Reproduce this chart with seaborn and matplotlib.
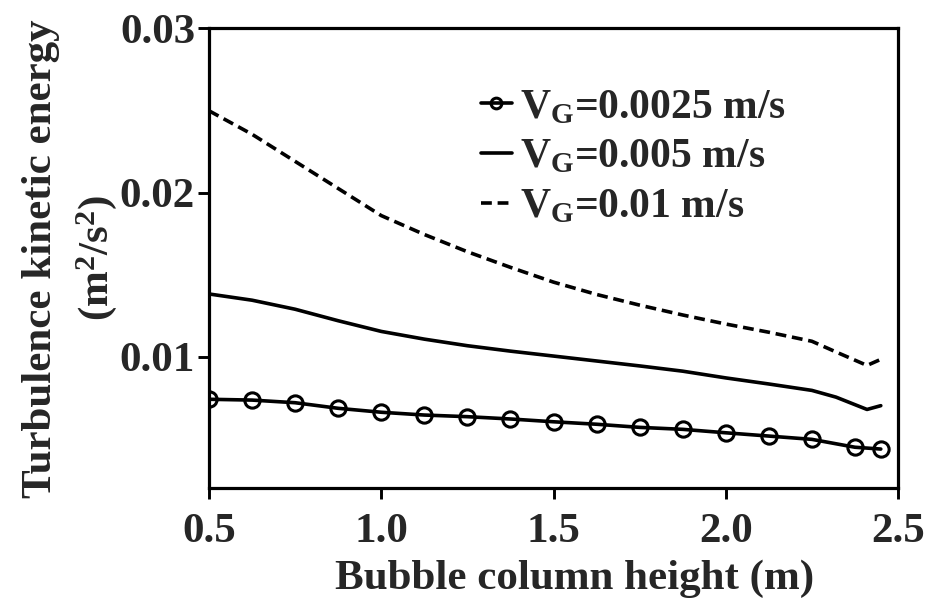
import matplotlib
matplotlib.use("Agg")
import matplotlib.pyplot as plt
import seaborn as sns
import pandas as pd

# Turbulence kinetic energy along the bubble column for three superficial gas velocities
height_pts = [0.5, 0.625, 0.75, 0.875, 1.0, 1.125, 1.25, 1.375, 1.5, 1.625,
              1.75, 1.875, 2.0, 2.125, 2.25, 2.375, 2.45]
tke_0025 = [0.00742, 0.00737, 0.00721, 0.00687, 0.00663, 0.00646, 0.00636, 0.00622,
            0.00605, 0.00590, 0.00571, 0.00559, 0.00538, 0.00518, 0.00498, 0.00450, 0.00439]

height_line = [0.5, 0.625, 0.75, 0.875, 1.0, 1.125, 1.25, 1.375, 1.5, 1.625,
               1.75, 1.875, 2.0, 2.125, 2.25, 2.32, 2.41, 2.45]
tke_005 = [0.01383, 0.01345, 0.01290, 0.01220, 0.01155, 0.01108, 0.01068, 0.01035,
           0.01005, 0.00975, 0.00945, 0.00913, 0.00872, 0.00835, 0.00796, 0.00755,
           0.00680, 0.00703]
tke_001 = [0.02498, 0.02355, 0.02190, 0.02025, 0.01860, 0.01745, 0.01640, 0.01545,
           0.01455, 0.01380, 0.01315, 0.01255, 0.01200, 0.01150, 0.01095, 0.01030,
           0.00948, 0.00985]

labels = [r"$\mathrm{V_G}$=0.0025 m/s", r"$\mathrm{V_G}$=0.005 m/s", r"$\mathrm{V_G}$=0.01 m/s"]
x_ticks = [0.5, 1.0, 1.5, 2.0, 2.5]
y_ticks = [0.01, 0.02, 0.03]

sns.set_theme(style="white")
plt.rcParams["font.family"] = ["Liberation Serif", "DejaVu Serif"]
plt.rcParams["font.weight"] = "bold"
plt.rcParams["mathtext.fontset"] = "custom"
plt.rcParams["mathtext.rm"] = "Liberation Serif:bold"
plt.rcParams["mathtext.bf"] = "Liberation Serif:bold"
plt.rcParams["mathtext.it"] = "Liberation Serif:bold"
plt.rcParams["mathtext.default"] = "rm"

df_pts = pd.DataFrame({"h": height_pts, "k": tke_0025})
df_line = pd.DataFrame({"h": height_line, "k5": tke_005, "k10": tke_001})

fig = plt.figure(figsize=(9.28, 6.06), dpi=100)
ax = fig.add_axes([0.2252, 0.1942, 0.7425, 0.7591])

sns.lineplot(data=df_pts, x="h", y="k", ax=ax, color="black", lw=2.6,
             marker="o", markersize=11, markerfacecolor="none",
             markeredgecolor="black", markeredgewidth=2.2, label=labels[0])
sns.lineplot(data=df_line, x="h", y="k5", ax=ax, color="black", lw=2.6, label=labels[1])
sns.lineplot(data=df_line, x="h", y="k10", ax=ax, color="black", lw=2.6,
             dashes=False, label=labels[2])
ax.lines[-1].set_dashes([3, 1.6])

ax.set_xlim(0.5, 2.5)
ax.set_ylim(0.002, 0.03)
ax.set_xticks(x_ticks)
ax.set_xticklabels(["0.5", "1.0", "1.5", "2.0", "2.5"])
ax.set_yticks(y_ticks)
ax.set_yticklabels(["0.01", "0.02", "0.03"])

for side in ["left", "right", "top", "bottom"]:
    ax.spines[side].set_visible(True)
    ax.spines[side].set_color("black")
    ax.spines[side].set_linewidth(2.3)

ax.tick_params(axis="both", which="major", direction="out", length=8, width=2.1,
               color="black", labelsize=31, bottom=True, left=True)
ax.tick_params(axis="x", pad=10)
ax.tick_params(axis="y", pad=2)
for t in ax.get_xticklabels() + ax.get_yticklabels():
    t.set_fontweight("bold")

ax.set_xlabel("Bubble column height (m)", fontsize=31, fontweight="bold", labelpad=8)
ax.xaxis.set_label_coords(0.53, -0.155)
ax.set_ylabel("Turbulence kinetic energy\n" + r"(m$^{2}$/s$^{2}$)", fontsize=31,
              fontweight="bold", linespacing=1.42)
ax.yaxis.set_label_coords(-0.13, 0.5)

leg = ax.legend(loc="upper left", bbox_to_anchor=(0.37, 0.905), frameon=False,
                fontsize=30, handlelength=0.75, handletextpad=0.2,
                labelspacing=0.28, markerscale=0.7, borderaxespad=0)
for txt in leg.get_texts():
    txt.set_fontweight("bold")

fig.savefig("out.png", dpi=100)
